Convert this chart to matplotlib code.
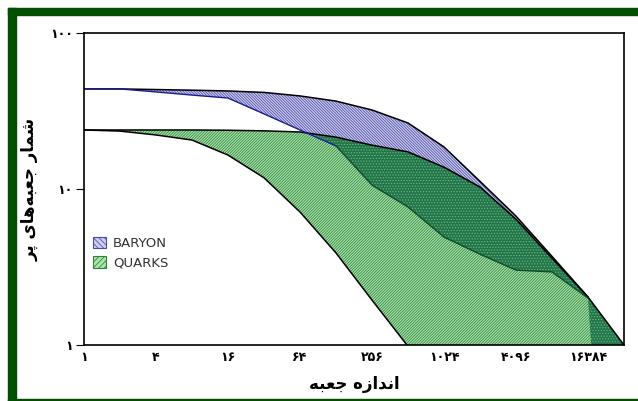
import matplotlib
matplotlib.use("Agg")
import matplotlib.pyplot as plt
from matplotlib.patches import Patch, Rectangle
import numpy as np

# box sizes (x) and number of filled boxes (y)
box_sizes = [1, 2, 4, 8, 16, 32, 64, 128, 256, 512, 1024, 2048, 4096, 8192, 16384, 32768]
baryon_hi = [43.8, 43.8, 43.4, 43.0, 42.5, 41.6, 39.5, 36.6, 32.1, 26.5, 18.6, 11.2, 6.7, 3.7, 2.03, 1.0]
baryon_lo = [43.8, 43.8, 41.9, 40.0, 38.3, 30.3, 23.9, 18.9, 10.6, 7.67, 4.92, 3.82, 3.02, 2.94, 2.0, 0.0001]
quark_hi = [23.9, 23.9, 23.9, 23.9, 23.8, 23.6, 23.2, 21.5, 19.1, 17.3, 13.8, 10.3, 6.4, 3.6, 2.03, 1.0]
quark_lo = [23.9, 23.5, 22.2, 20.6, 16.5, 11.8, 7.12, 3.89, 1.94, 0.98, 0.5, 0.2, 0.1, 0.05, 0.01, 0.001]

x_ticks = [1, 4, 16, 64, 256, 1024, 4096, 16384]
y_ticks = [1, 10, 100]
series_names = ["BARYON", "QUARKS"]
x_title = "اندازه جعبه"
y_title = "شمار جعبه‌های پر"

FA_DIGITS = str.maketrans("0123456789", "۰۱۲۳۴۵۶۷۸۹")

# presentation forms: isolated, final, initial, medial (right-joining letters have only two)
FORMS = {
    "ا": "\uFE8D\uFE8E", "د": "\uFEA9\uFEAA", "ز": "\uFEAF\uFEB0", "ر": "\uFEAD\uFEAE",
    "ن": "\uFEE5\uFEE6\uFEE7\uFEE8", "ه": "\uFEE9\uFEEA\uFEEB\uFEEC",
    "ج": "\uFE9D\uFE9E\uFE9F\uFEA0", "ع": "\uFEC9\uFECA\uFECB\uFECC",
    "ب": "\uFE8F\uFE90\uFE91\uFE92", "ش": "\uFEB5\uFEB6\uFEB7\uFEB8",
    "م": "\uFEE1\uFEE2\uFEE3\uFEE4", "ی": "\uFBFC\uFBFD\uFBFE\uFBFF",
    "پ": "\uFB56\uFB57\uFB58\uFB59",
}


def shape(text):
    """Join arabic letters by hand and put them in visual order (no bidi in matplotlib)."""
    out = []
    for i, ch in enumerate(text):
        if ch not in FORMS:
            if ch != "\u200c":
                out.append(ch)
            continue
        prev = text[i - 1] if i > 0 else ""
        nxt = text[i + 1] if i + 1 < len(text) else ""
        join_prev = prev in FORMS and len(FORMS[prev]) == 4
        join_next = len(FORMS[ch]) == 4 and nxt in FORMS
        f = FORMS[ch]
        if join_prev and join_next:
            out.append(f[3])
        elif join_prev:
            out.append(f[1])
        elif join_next:
            out.append(f[2])
        else:
            out.append(f[0])
    return "".join(out)[::-1]


def fa(n):
    return str(n).translate(FA_DIGITS)


plt.rcParams["hatch.linewidth"] = 0.55

fig = plt.figure(figsize=(6.38, 4.01), dpi=100)
ax = fig.add_axes([84 / 638, 56 / 401, 540 / 638, 312 / 401])

x = np.array(box_sizes, dtype=float)
bhi = np.array(baryon_hi)
blo = np.array(baryon_lo)
qhi = np.array(quark_hi)
qlo = np.array(quark_lo)

q_face, q_hatch = "#a8e6a8", "#307e40"
b_face, b_hatch = "#cdcdf2", "#4c4ca0"
o_face, o_hatch = "#24744a", "#66b882"

ax.fill_between(x, qlo, qhi, facecolor=q_face, edgecolor=q_hatch, hatch="/" * 12, linewidth=0)
ax.fill_between(x[:15], blo[:15], bhi[:15], facecolor=b_face, edgecolor=b_hatch,
                hatch="\\" * 12, linewidth=0)
top = np.minimum(bhi, qhi)
bot = np.maximum(blo, qlo)
ax.fill_between(x, bot, top, where=top > bot, interpolate=True, facecolor=o_face,
                edgecolor=o_hatch, hatch="." * 6, linewidth=0)

ax.plot(x[:15], bhi[:15], color="black", lw=1.1)
ax.plot(x, qhi, color="black", lw=1.1)
ax.plot(x, qlo, color="black", lw=1.1)
ax.plot(x[:8], blo[:8], color="#1a1a90", lw=1.0)
ax.plot(x[7:15], blo[7:15], color="#0f4a2c", lw=1.0)

ax.set_xscale("log", base=2)
ax.set_yscale("log")
ax.set_xlim(1, 32768)
ax.set_ylim(1, 100)
ax.set_xticks(x_ticks)
ax.set_xticklabels([fa(v) for v in x_ticks], fontsize=9, fontweight="bold")
ax.set_yticks(y_ticks)
ax.set_yticklabels([fa(v) for v in y_ticks], fontsize=9, fontweight="bold")
ax.minorticks_off()
ax.tick_params(axis="x", length=0, pad=4)
ax.tick_params(axis="y", length=6, width=0.8, pad=2)
for s in ax.spines.values():
    s.set_linewidth(1.2)
    s.set_color("black")

ax.set_xlabel(shape(x_title), fontsize=12, fontweight="bold", labelpad=8)
ax.set_ylabel(shape(y_title), fontsize=12, fontweight="bold", labelpad=8)

handles = [
    Patch(facecolor=b_face, edgecolor=b_hatch, hatch="\\" * 6, linewidth=0.8),
    Patch(facecolor=q_face, edgecolor=q_hatch, hatch="/" * 6, linewidth=0.8),
]
ax.legend(handles, series_names, loc="center left", bbox_to_anchor=(0.0, 0.295),
          frameon=False, fontsize=9.5, handlelength=1.0, handleheight=1.0,
          handletextpad=0.5, labelspacing=0.45, borderaxespad=0.3, labelcolor="#333333")

# dark green frame (cut off on the right side, as in the picture)
frame = "#024f02"
fig.patches.append(Rectangle((8 / 638, (401 - 15) / 401), 630 / 638, 7 / 401,
                             transform=fig.transFigure, color=frame, zorder=0))
fig.patches.append(Rectangle((8 / 638, 0), 8 / 638, (401 - 8) / 401,
                             transform=fig.transFigure, color=frame, zorder=0))
fig.patches.append(Rectangle((8 / 638, 0), 630 / 638, 2.5 / 401,
                             transform=fig.transFigure, color=frame, zorder=0))

fig.savefig("out.png", dpi=100)
